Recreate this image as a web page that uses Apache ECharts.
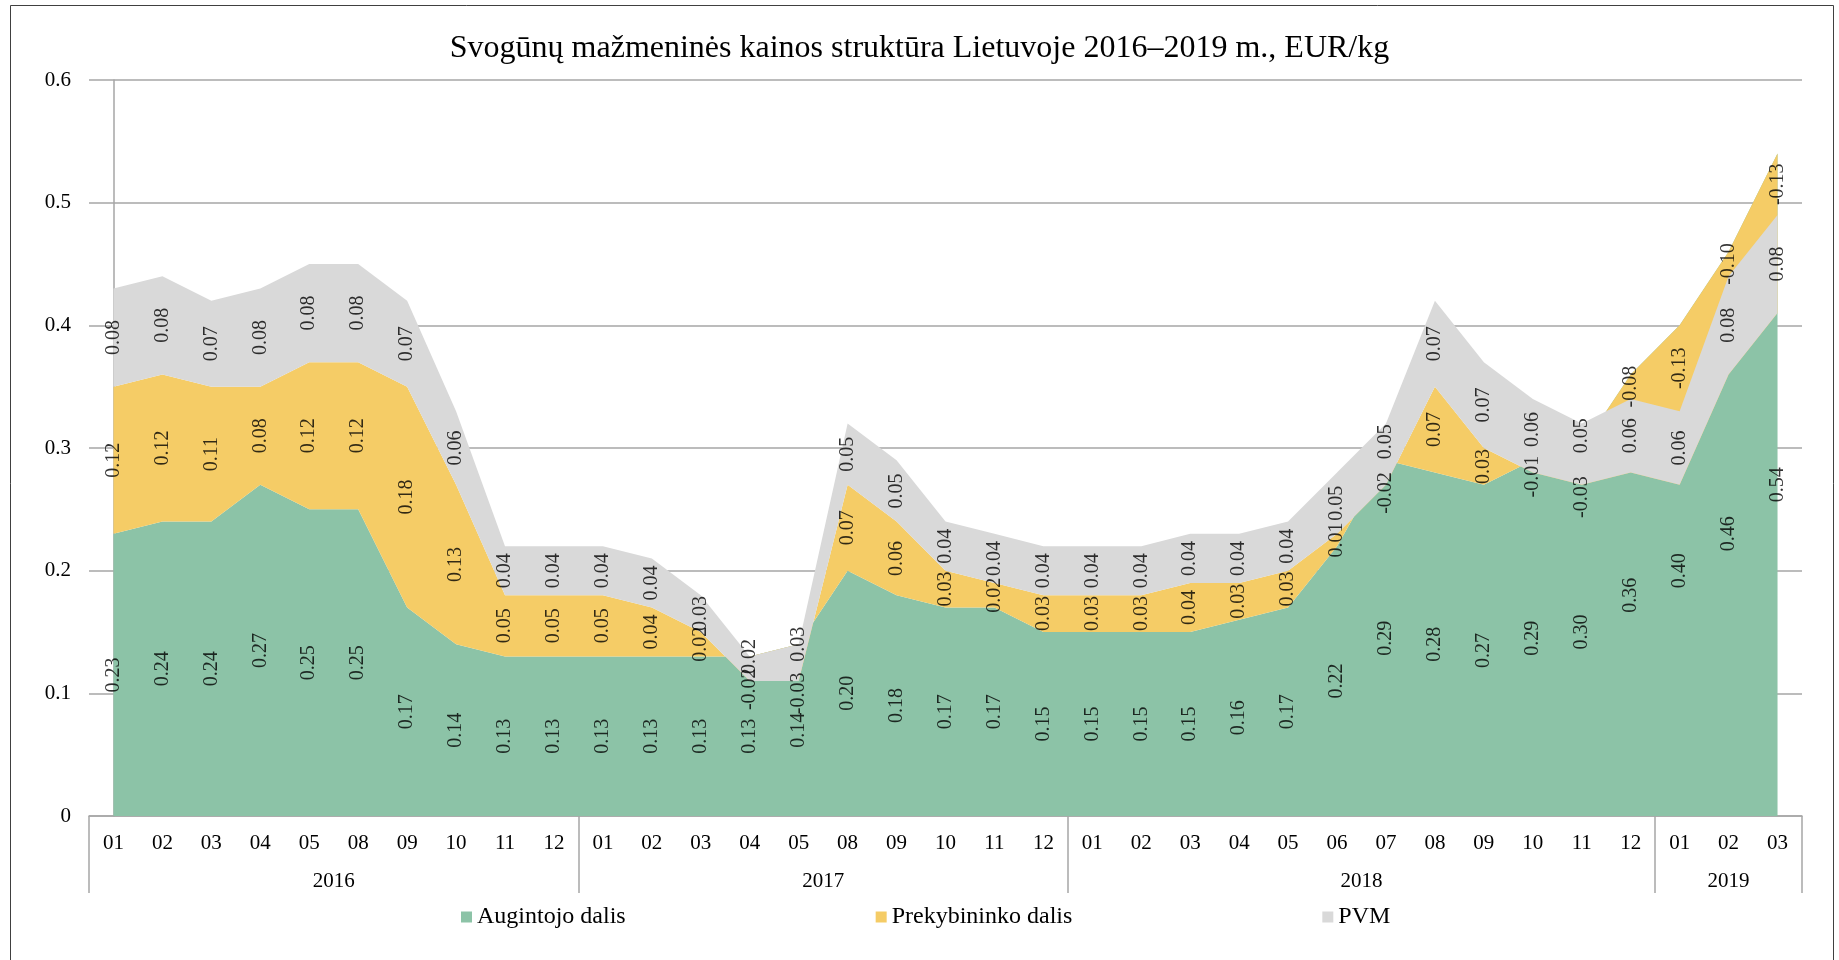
<!DOCTYPE html>
<html>
<head>
<meta charset="utf-8">
<title>Svogūnų mažmeninės kainos struktūra</title>
<script src="https://cdn.jsdelivr.net/npm/echarts@6/dist/echarts.min.js"></script>
<style>
html, body { margin: 0; padding: 0; background: #fff; }
#main { width: 1839px; height: 960px; }
</style>
</head>
<body>
<div id="main"></div>
<script>
// metai ir kiek mėnesių kiekvienais metais
const years = ['2016', '2017', '2018', '2019'];
const yearLength = [10, 10, 12, 3];
const months = [
    '01', '02', '03', '04', '05', '08', '09', '10', '11', '12',
    '01', '02', '03', '04', '05', '08', '09', '10', '11', '12',
    '01', '02', '03', '04', '05', '06', '07', '08', '09', '10', '11', '12',
    '01', '02', '03'
];

const augintojo = [
    0.23, 0.24, 0.24, 0.27, 0.25, 0.25, 0.17, 0.14, 0.13, 0.13,
    0.13, 0.13, 0.13, 0.13, 0.14, 0.20, 0.18, 0.17, 0.17, 0.15,
    0.15, 0.15, 0.15, 0.16, 0.17, 0.22, 0.29, 0.28, 0.27, 0.29, 0.30, 0.36,
    0.40, 0.46, 0.54
];
const prekybininko = [
    0.12, 0.12, 0.11, 0.08, 0.12, 0.12, 0.18, 0.13, 0.05, 0.05,
    0.05, 0.04, 0.02, -0.02, -0.03, 0.07, 0.06, 0.03, 0.02, 0.03,
    0.03, 0.03, 0.04, 0.03, 0.03, 0.01, -0.02, 0.07, 0.03, -0.01, -0.03, -0.08,
    -0.13, -0.10, -0.13
];
const pvm = [
    0.08, 0.08, 0.07, 0.08, 0.08, 0.08, 0.07, 0.06, 0.04, 0.04,
    0.04, 0.04, 0.03, 0.02, 0.03, 0.05, 0.05, 0.04, 0.04, 0.04,
    0.04, 0.04, 0.04, 0.04, 0.04, 0.05, 0.05, 0.07, 0.07, 0.06, 0.05, 0.06,
    0.06, 0.08, 0.08
];

const seriesNames = ['Augintojo dalis', 'Prekybininko dalis', 'PVM'];
const colors = ['#8CC3A7', '#F5CC66', '#D9D9D9'];
const FONT = "'Liberation Serif', 'Times New Roman', serif";
const GRID = '#A6A6A6';

// metų grupių ribos ir vidurys (kategorijų indeksais)
const edges = [-0.5];
const centres = [];
let start = 0;
yearLength.forEach(n => {
    centres.push(start + (n - 1) / 2);
    start += n;
    edges.push(start - 0.5);
});

// etikečių vieta: juostos vidurys; kai prekybininko dalis neigiama -
// matomos juostos dalies vidurys (kaip Excel'yje)
const parts = [augintojo, prekybininko, pvm];
const labelData = parts.map(() => []);
months.forEach((m, i) => {
    const cum = [];
    let s = 0;
    parts.forEach(arr => { s += arr[i]; cum.push(s); });
    const neg = prekybininko[i] < 0;
    parts.forEach((arr, k) => {
        const prev = k ? cum[k - 1] : 0;
        let mid = prev + arr[i] / 2;
        if (k === 1 && neg) {
            const low = Math.max(cum[1], cum[2]);
            mid = low < cum[0] ? (low + cum[0]) / 2 : cum[1] + arr[i] / 3;
        }
        if (k === 2 && neg) {
            const lo = Math.max(cum[0], cum[1]);
            if (lo <= cum[2]) mid = (lo + cum[2]) / 2;
        }
        labelData[k].push({ value: [i, mid], raw: arr[i] });
    });
});

const areaSeries = parts.map((arr, k) => ({
    name: seriesNames[k],
    type: 'line',
    stack: 'total',
    stackStrategy: 'all',
    data: arr,
    symbol: 'none',
    lineStyle: { width: 0, opacity: 0 },
    areaStyle: { color: colors[k], opacity: 1 },
    itemStyle: { color: colors[k] },
    silent: true,
    z: 2
}));

const labelSeries = labelData.map((d, k) => ({
    name: seriesNames[k] + '_lbl',
    type: 'scatter',
    data: d,
    symbolSize: 1,
    itemStyle: { color: 'rgba(0,0,0,0)' },
    silent: true,
    z: 5,
    label: {
        show: true,
        position: 'inside',
        rotate: 90,
        formatter: p => p.data.raw.toFixed(2),
        color: '#000',
        fontFamily: FONT,
        fontSize: 20
    }
}));

const chart = echarts.init(document.getElementById('main'));
chart.setOption({
    animation: false,
    backgroundColor: '#fff',
    title: {
        text: 'Svogūnų mažmeninės kainos struktūra Lietuvoje 2016–2019 m., EUR/kg',
        left: 'center',
        top: 33,
        padding: 0,
        textStyle: { fontFamily: FONT, fontSize: 32, fontWeight: 'normal', color: '#000' }
    },
    legend: {
        data: seriesNames.map((n, k) => ({ name: n, itemStyle: { color: colors[k] } })),
        left: 461,
        top: 905,
        padding: 0,
        icon: 'rect',
        itemWidth: 11,
        itemHeight: 11,
        itemGap: 250,
        textStyle: { fontFamily: FONT, fontSize: 24, color: '#000' }
    },
    grid: { left: 89, right: 37, top: 80, bottom: 144 },
    xAxis: [
        {
            type: 'category',
            data: months,
            boundaryGap: true,
            axisLine: { lineStyle: { color: GRID, width: 1.5 } },
            axisTick: { show: false },
            axisLabel: { interval: 0, margin: 17, color: '#000', fontFamily: FONT, fontSize: 21 }
        },
        {
            type: 'value',
            position: 'bottom',
            min: -0.5,
            max: 34.5,
            axisLine: { show: false },
            splitLine: { show: false },
            axisTick: { show: true, customValues: edges, length: 77, lineStyle: { color: GRID, width: 1.5 } },
            axisLabel: {
                customValues: centres,
                formatter: v => years[centres.findIndex(c => Math.abs(c - v) < 1e-6)] || '',
                margin: 55,
                color: '#000',
                fontFamily: FONT,
                fontSize: 21
            }
        }
    ],
    yAxis: {
        type: 'value',
        min: 0,
        max: 0.6,
        interval: 0.1,
        axisLine: { show: true, lineStyle: { color: GRID, width: 1.5 } },
        axisTick: { show: false },
        splitLine: { lineStyle: { color: GRID, width: 1.5 } },
        axisLabel: { margin: 18, color: '#000', fontFamily: FONT, fontSize: 21 }
    },
    graphic: [{
        type: 'rect',
        silent: true,
        shape: { x: 10.5, y: 5.5, width: 1823, height: 1000 },
        style: { fill: 'none', stroke: '#404040', lineWidth: 1 }
    }],
    series: areaSeries.concat(labelSeries)
});
</script>
</body>
</html>
